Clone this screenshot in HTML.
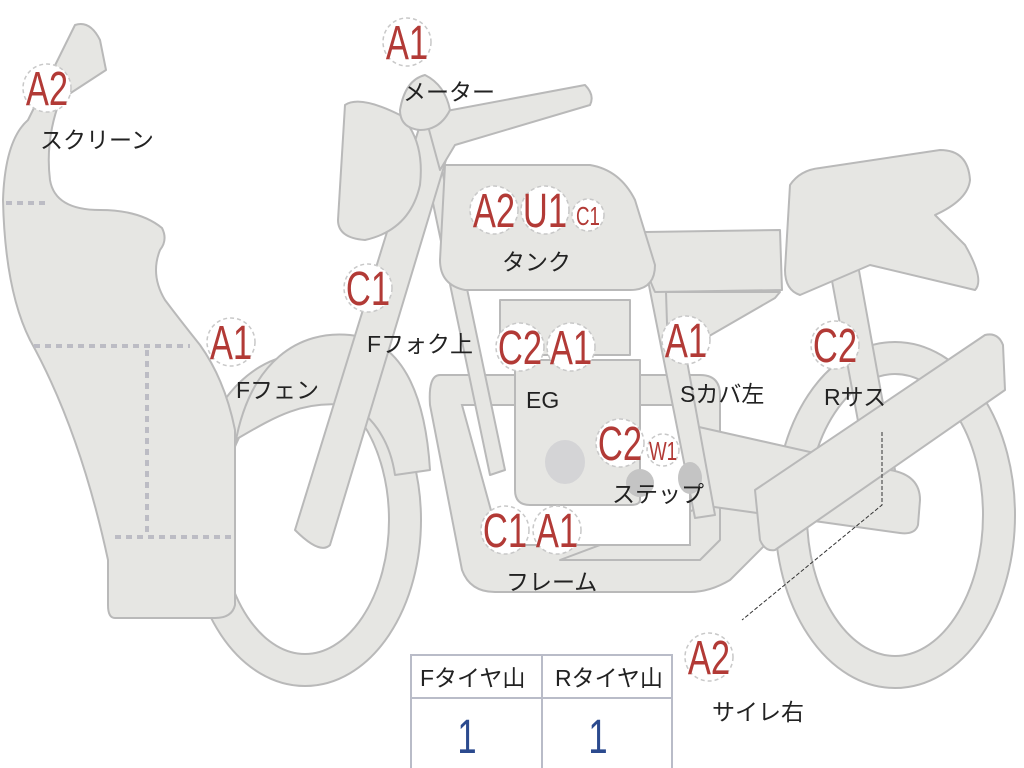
<!DOCTYPE html>
<html><head><meta charset="utf-8"><style>
html,body{margin:0;padding:0;background:#fff;width:1024px;height:768px;overflow:hidden}
svg{display:block}
.s{fill:#e6e6e3;stroke:#b9b9b9;stroke-width:2;stroke-linejoin:round}
.b{fill:#fff;stroke:#c8c8c8;stroke-width:1.5;stroke-dasharray:4 3}
.r{fill:#b23a36;font-family:"Liberation Sans",sans-serif;font-size:48px}
.rs{fill:#b23a36;font-family:"Liberation Sans",sans-serif;font-size:26px}
.l{fill:#222;font-family:"Liberation Sans","Noto Sans CJK JP",sans-serif;font-size:23px}
</style></head><body>
<svg width="1024" height="768" viewBox="0 0 1024 768">
<ellipse cx="895" cy="515" rx="104" ry="157" fill="none" stroke="#b9b9b9" stroke-width="34"/>
<ellipse cx="895" cy="515" rx="104" ry="157" fill="none" stroke="#e6e6e3" stroke-width="30"/>
<ellipse cx="305" cy="520" rx="100" ry="150" fill="none" stroke="#b9b9b9" stroke-width="34"/>
<ellipse cx="305" cy="520" rx="100" ry="150" fill="none" stroke="#e6e6e3" stroke-width="30"/>
<path class="s" d="M235,445 C250,360 300,330 350,335 C400,340 425,390 430,470 L395,475 C390,440 370,410 345,405 C300,400 270,420 235,440 Z"/>
<path class="s" d="M830,270 L858,265 L895,470 L868,475 Z"/>
<path class="s" d="M440,375 L700,375 Q720,375 720,395 L720,540 L700,560 L560,560 L720,500 L760,500 L780,530 L730,580 Q710,592 690,592 L495,592 Q470,592 462,570 L430,405 Q428,375 440,375 Z"/>
<path d="M462,405 L690,405 L690,545 L520,545 Q500,545 495,525 Z" fill="#fff" stroke="#b9b9b9" stroke-width="2"/>
<path class="s" d="M690,425 L890,470 Q920,475 920,500 L918,525 Q915,535 900,533 L700,505 Z"/>
<path class="s" d="M425,165 L440,160 L505,470 L490,475 Z"/>
<path class="s" d="M640,240 L665,240 L715,515 L695,518 Z"/>
<path class="s" d="M515,360 L640,360 L640,500 Q640,505 630,505 L530,505 Q515,505 515,490 Z"/>
<rect class="s" x="500" y="300" width="130" height="55"/>
<ellipse cx="565" cy="462" rx="20" ry="22" fill="#d4d4d6"/>
<ellipse cx="640" cy="483" rx="14" ry="14" fill="#c4c4c4"/>
<ellipse cx="690" cy="478" rx="12" ry="16" fill="#c4c4c4"/>
<path class="s" d="M645,232 L780,230 L782,290 L655,292 Q640,260 645,232 Z"/>
<path class="s" d="M666,292 L780,292 L775,298 L685,350 L668,355 Z"/>
<path class="s" d="M790,185 Q800,170 820,168 L940,150 Q968,150 970,180 Q968,200 935,215 L965,245 Q985,280 975,290 L870,265 L800,295 Q785,290 785,270 Z"/>
<path class="s" d="M445,165 L590,165 Q620,170 635,200 L655,265 Q655,290 630,290 L465,290 Q440,285 440,260 Z"/>
<path class="s" d="M420,125 L455,130 L330,545 Q320,555 295,530 Z"/>
<path class="s" d="M425,115 L585,85 Q595,95 590,105 L455,145 L440,170 Z"/>
<path class="s" d="M345,105 Q360,95 400,115 Q425,140 420,185 Q410,230 365,240 Q338,238 338,220 Z"/>
<path class="s" d="M400,110 Q405,80 425,75 Q445,85 450,110 Q440,130 420,130 Q400,128 400,110 Z"/>
<path class="s" d="M755,490 L985,335 Q998,332 1003,345 L1005,390 L775,550 Q765,552 760,540 Z"/>
<path class="s" d="M28,120 L75,25 Q90,20 100,40 L106,70 L60,100 Q45,140 50,180 Q55,210 100,210 Q140,210 162,228 Q168,240 160,250 Q150,275 165,300 Q180,320 200,345 Q225,380 235,430 L235,605 Q232,618 215,618 L115,618 Q108,618 108,605 L108,560 Q80,430 30,340 Q5,290 3,200 Q5,140 28,120 Z"/>
<g stroke="#bcbcc4" stroke-width="4" stroke-dasharray="6 5" fill="none">
<line x1="6" y1="203" x2="50" y2="203"/>
<line x1="34" y1="346" x2="190" y2="346"/>
<line x1="147" y1="350" x2="147" y2="535"/>
<line x1="115" y1="537" x2="234" y2="537"/>
</g>
<path d="M882,432 L882,505 L742,620" fill="none" stroke="#333" stroke-width="1" stroke-dasharray="4 2"/>
<g>
<circle class="b" cx="407" cy="42" r="24"/><text class="r" x="407" y="59" text-anchor="middle" transform="translate(407 0) scale(0.72 1) translate(-407 0)">A1</text>
<circle class="b" cx="47" cy="88" r="24"/><text class="r" x="47" y="105" text-anchor="middle" transform="translate(47 0) scale(0.72 1) translate(-47 0)">A2</text>
<circle class="b" cx="494" cy="210" r="24"/><text class="r" x="494" y="227" text-anchor="middle" transform="translate(494 0) scale(0.72 1) translate(-494 0)">A2</text>
<circle class="b" cx="545" cy="210" r="24"/><text class="r" x="545" y="227" text-anchor="middle" transform="translate(545 0) scale(0.72 1) translate(-545 0)">U1</text>
<circle class="b" cx="588" cy="215" r="16"/><text class="rs" x="588" y="225" text-anchor="middle" transform="translate(588 0) scale(0.72 1) translate(-588 0)">C1</text>
<circle class="b" cx="368" cy="288" r="24"/><text class="r" x="368" y="305" text-anchor="middle" transform="translate(368 0) scale(0.72 1) translate(-368 0)">C1</text>
<circle class="b" cx="231" cy="342" r="24"/><text class="r" x="231" y="359" text-anchor="middle" transform="translate(231 0) scale(0.72 1) translate(-231 0)">A1</text>
<circle class="b" cx="520" cy="347" r="24"/><text class="r" x="520" y="364" text-anchor="middle" transform="translate(520 0) scale(0.72 1) translate(-520 0)">C2</text>
<circle class="b" cx="571" cy="347" r="24"/><text class="r" x="571" y="364" text-anchor="middle" transform="translate(571 0) scale(0.72 1) translate(-571 0)">A1</text>
<circle class="b" cx="686" cy="340" r="24"/><text class="r" x="686" y="357" text-anchor="middle" transform="translate(686 0) scale(0.72 1) translate(-686 0)">A1</text>
<circle class="b" cx="835" cy="345" r="24"/><text class="r" x="835" y="362" text-anchor="middle" transform="translate(835 0) scale(0.72 1) translate(-835 0)">C2</text>
<circle class="b" cx="620" cy="443" r="24"/><text class="r" x="620" y="460" text-anchor="middle" transform="translate(620 0) scale(0.72 1) translate(-620 0)">C2</text>
<circle class="b" cx="663" cy="450" r="16"/><text class="rs" x="663" y="460" text-anchor="middle" transform="translate(663 0) scale(0.72 1) translate(-663 0)">W1</text>
<circle class="b" cx="505" cy="530" r="24"/><text class="r" x="505" y="547" text-anchor="middle" transform="translate(505 0) scale(0.72 1) translate(-505 0)">C1</text>
<circle class="b" cx="557" cy="530" r="24"/><text class="r" x="557" y="547" text-anchor="middle" transform="translate(557 0) scale(0.72 1) translate(-557 0)">A1</text>
<circle class="b" cx="709" cy="657" r="24"/><text class="r" x="709" y="674" text-anchor="middle" transform="translate(709 0) scale(0.72 1) translate(-709 0)">A2</text>
</g>
<text class="l" x="403" y="100">メーター</text>
<text class="l" x="40" y="148">スクリーン</text>
<text class="l" x="502" y="270">タンク</text>
<text class="l" x="367" y="352">Fフォク上</text>
<text class="l" x="236" y="398">Fフェン</text>
<text class="l" x="526" y="408">EG</text>
<text class="l" x="680" y="402">Sカバ左</text>
<text class="l" x="824" y="405">Rサス</text>
<text class="l" x="612" y="502">ステップ</text>
<text class="l" x="506" y="590">フレーム</text>
<text class="l" x="712" y="720">サイレ右</text>
<rect x="411" y="655" width="261" height="115" fill="#fff" stroke="#b9bcc8" stroke-width="2"/>
<line x1="411" y1="698" x2="672" y2="698" stroke="#b9bcc8" stroke-width="2"/>
<line x1="542" y1="655" x2="542" y2="768" stroke="#b9bcc8" stroke-width="2"/>
<text class="l" x="420" y="686">Fタイヤ山</text>
<text class="l" x="555" y="686">Rタイヤ山</text>
<text x="467" y="753" fill="#2b4a8e" font-family="Liberation Sans,sans-serif" font-size="48" text-anchor="middle" transform="translate(467 0) scale(0.72 1) translate(-467 0)">1</text>
<text x="598" y="753" fill="#2b4a8e" font-family="Liberation Sans,sans-serif" font-size="48" text-anchor="middle" transform="translate(598 0) scale(0.72 1) translate(-598 0)">1</text>
</svg>
</body></html>
